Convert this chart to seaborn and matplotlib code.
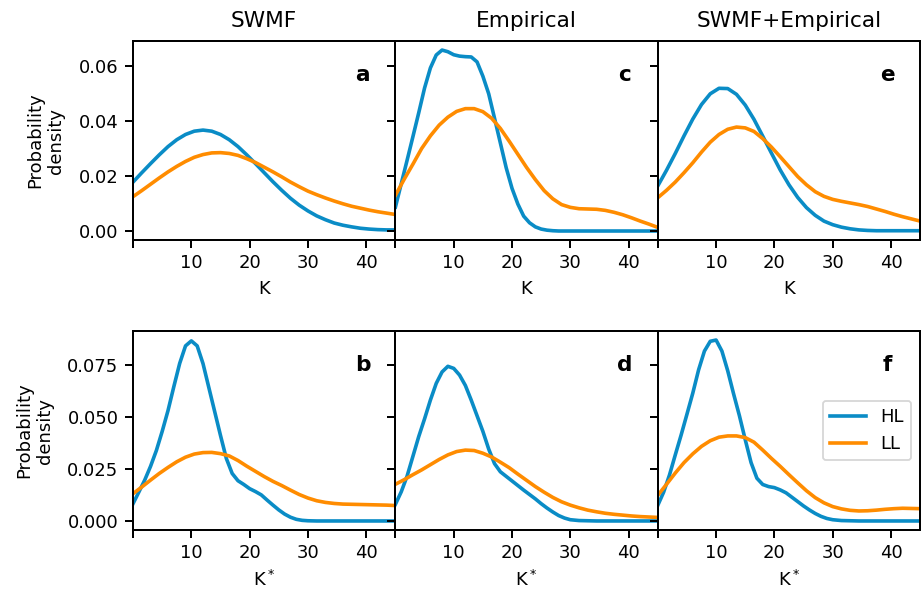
import numpy as np
import pandas as pd
import matplotlib
matplotlib.use("Agg")
import matplotlib.pyplot as plt
import seaborn as sns

# ---------------- data ----------------
# coarse K grid for the smooth curves
k_grid = [0, 1.5, 3, 4.5, 6, 7.5, 9, 10.5, 12, 13.5, 15, 16.5, 18, 19.5, 21, 22.5,
          24, 25.5, 27, 28.5, 30, 31.5, 33, 34.5, 36, 37.5, 39, 40.5, 42, 43.5, 45]
# finer K grid for the sharply peaked curves
k_fine = [0, 1, 2, 3, 4, 5, 6, 7, 8, 9, 10, 11, 12, 13, 14, 15, 16, 17, 18, 19, 20,
          21, 22, 23, 24, 25, 26, 27, 28, 29, 30, 31.5, 33, 34.5, 36, 37.5, 39, 40.5,
          42, 43.5, 45]

# a: SWMF, K  (k_grid)
a_hl = [0.0178, 0.0212, 0.0245, 0.0277, 0.0307, 0.0332, 0.0351, 0.0363, 0.0367, 0.0363,
        0.0351, 0.0332, 0.0307, 0.0277, 0.0245, 0.0212, 0.0179, 0.0148, 0.0119, 0.0094,
        0.0073, 0.0055, 0.0041, 0.0029, 0.0021, 0.0015, 0.0010, 0.0007, 0.0005, 0.0004, 0.0004]
a_ll = [0.0125, 0.0147, 0.0170, 0.0193, 0.0215, 0.0235, 0.0253, 0.0268, 0.0278, 0.0284,
        0.0285, 0.0282, 0.0275, 0.0263, 0.0249, 0.0232, 0.0215, 0.0197, 0.0178, 0.0161,
        0.0145, 0.0132, 0.0120, 0.0109, 0.0099, 0.0090, 0.0083, 0.0076, 0.0070, 0.0065, 0.0060]
# c: Empirical, K  (HL on k_fine, LL on k_grid)
c_hl = [0.0087, 0.0172, 0.0257, 0.0343, 0.0430, 0.0520, 0.0593, 0.0640, 0.0658, 0.0652,
        0.0641, 0.0636, 0.0634, 0.0633, 0.0615, 0.0563, 0.0499, 0.0410, 0.0320, 0.0230,
        0.0155, 0.0098, 0.0054, 0.0030, 0.0015, 0.0007, 0.0003, 0.0001, 0.0000, 0.0000,
        0.0000, 0.0000, 0.0000, 0.0000, 0.0000, 0.0000, 0.0000, 0.0000, 0.0000, 0.0000, 0.0000]
c_ll = [0.0130, 0.0188, 0.0243, 0.0300, 0.0346, 0.0385, 0.0414, 0.0435, 0.0445, 0.0445,
        0.0434, 0.0410, 0.0373, 0.0327, 0.0279, 0.0231, 0.0187, 0.0147, 0.0117, 0.0096,
        0.0086, 0.0081, 0.0080, 0.0079, 0.0075, 0.0068, 0.0059, 0.0048, 0.0036, 0.0025, 0.0013]
# e: SWMF+Empirical, K  (k_grid)
e_hl = [0.0164, 0.0221, 0.0282, 0.0346, 0.0407, 0.0460, 0.0499, 0.0519, 0.0518, 0.0497,
        0.0458, 0.0406, 0.0345, 0.0283, 0.0222, 0.0168, 0.0122, 0.0085, 0.0057, 0.0036,
        0.0023, 0.0014, 0.0008, 0.0004, 0.0002, 0.0001, 0.0001, 0.0001, 0.0001, 0.0001, 0.0001]
e_ll = [0.0121, 0.0148, 0.0178, 0.0212, 0.0248, 0.0287, 0.0323, 0.0351, 0.0370, 0.0378,
        0.0375, 0.0362, 0.0336, 0.0305, 0.0270, 0.0234, 0.0198, 0.0168, 0.0143, 0.0126,
        0.0115, 0.0108, 0.0102, 0.0096, 0.0089, 0.0080, 0.0071, 0.0061, 0.0052, 0.0044, 0.0036]
# b: SWMF, K*  (HL on k_fine, LL on k_grid)
b_hl = [0.0083, 0.0139, 0.0196, 0.0262, 0.0338, 0.0430, 0.0530, 0.0645, 0.0756, 0.0840,
        0.0864, 0.0840, 0.0755, 0.0640, 0.0525, 0.0410, 0.0300, 0.0228, 0.0193, 0.0175,
        0.0155, 0.0141, 0.0125, 0.0100, 0.0076, 0.0053, 0.0033, 0.0018, 0.0008, 0.0003,
        0.0001, 0.0000, 0.0000, 0.0000, 0.0000, 0.0000, 0.0000, 0.0000, 0.0000, 0.0000, 0.0000]
b_ll = [0.0131, 0.0163, 0.0196, 0.0228, 0.0257, 0.0284, 0.0306, 0.0321, 0.0328, 0.0329,
        0.0323, 0.0312, 0.0290, 0.0263, 0.0238, 0.0213, 0.0190, 0.0170, 0.0148, 0.0127,
        0.0110, 0.0097, 0.0089, 0.0084, 0.0081, 0.0080, 0.0079, 0.0078, 0.0077, 0.0076, 0.0074]
# d: Empirical, K*  (HL on k_fine, LL on k_grid)
d_hl = [0.0080, 0.0140, 0.0215, 0.0310, 0.0405, 0.0490, 0.0580, 0.0660, 0.0715, 0.0742,
        0.0732, 0.0700, 0.0650, 0.0580, 0.0505, 0.0430, 0.0345, 0.0275, 0.0236, 0.0214,
        0.0192, 0.0170, 0.0148, 0.0127, 0.0106, 0.0083, 0.0062, 0.0043, 0.0026, 0.0014,
        0.0006, 0.0002, 0.0001, 0.0000, 0.0000, 0.0000, 0.0000, 0.0000, 0.0000, 0.0000, 0.0000]
d_ll = [0.0176, 0.0198, 0.0222, 0.0245, 0.0270, 0.0295, 0.0317, 0.0333, 0.0340, 0.0338,
        0.0325, 0.0307, 0.0282, 0.0256, 0.0225, 0.0195, 0.0165, 0.0138, 0.0113, 0.0092,
        0.0076, 0.0063, 0.0052, 0.0044, 0.0037, 0.0032, 0.0028, 0.0024, 0.0021, 0.0019, 0.0017]
# f: SWMF+Empirical, K*  (HL on k_fine, LL on k_grid)
f_hl = [0.0075, 0.0138, 0.0220, 0.0317, 0.0412, 0.0512, 0.0613, 0.0725, 0.0815, 0.0862,
        0.0868, 0.0815, 0.0720, 0.0610, 0.0505, 0.0390, 0.0280, 0.0205, 0.0175, 0.0165,
        0.0160, 0.0149, 0.0135, 0.0114, 0.0093, 0.0072, 0.0053, 0.0036, 0.0022, 0.0012,
        0.0006, 0.0002, 0.0001, 0.0000, 0.0000, 0.0000, 0.0000, 0.0000, 0.0000, 0.0000, 0.0000]
f_ll = [0.0123, 0.0176, 0.0230, 0.0280, 0.0322, 0.0358, 0.0385, 0.0402, 0.0408, 0.0408,
        0.0400, 0.0378, 0.0340, 0.0300, 0.0262, 0.0222, 0.0183, 0.0145, 0.0112, 0.0087,
        0.0069, 0.0058, 0.0051, 0.0048, 0.0049, 0.0052, 0.0056, 0.0059, 0.0061, 0.0060, 0.0059]

groups = ["HL", "LL"]
col_titles = ["SWMF", "Empirical", "SWMF+Empirical"]
row_xlabels = ["K", "K$^*$"]
panel_letters = [["a", "c", "e"], ["b", "d", "f"]]
panel_series = [
    [((k_grid, a_hl), (k_grid, a_ll)), ((k_fine, c_hl), (k_grid, c_ll)), ((k_grid, e_hl), (k_grid, e_ll))],
    [((k_fine, b_hl), (k_grid, b_ll)), ((k_fine, d_hl), (k_grid, d_ll)), ((k_fine, f_hl), (k_grid, f_ll))],
]
x_ticks = [0, 10, 20, 30, 40]
x_ticklabels = ["", "10", "20", "30", "40"]
row_yticks = [[0.0, 0.02, 0.04, 0.06], [0.0, 0.025, 0.05, 0.075]]

palette = {"HL": "#0a8cc6", "LL": "#ff8c00"}

# ---------------- plotting ----------------
plt.rcParams["font.family"] = ["DejaVu Sans"]
plt.rcParams["font.size"] = 10
plt.rcParams["axes.linewidth"] = 1.1
plt.rcParams["xtick.major.width"] = 1.1
plt.rcParams["ytick.major.width"] = 1.1
plt.rcParams["xtick.major.size"] = 4.5
plt.rcParams["ytick.major.size"] = 4.5

fig, axes = plt.subplots(2, 3, figsize=(922 / 130, 592 / 130), dpi=130, sharey="row")
fig.subplots_adjust(left=0.1443, right=0.998, top=0.9307, bottom=0.1047,
                    wspace=0.0, hspace=0.457)

for r in range(2):
    for c in range(3):
        ax = axes[r, c]
        (hl_k, hl), (ll_k, ll) = panel_series[r][c]
        df = pd.DataFrame({
            "K": list(hl_k) + list(ll_k),
            "density": list(hl) + list(ll),
            "group": ["HL"] * len(hl) + ["LL"] * len(ll),
        })
        sns.lineplot(data=df, x="K", y="density", hue="group", hue_order=groups,
                     palette=palette, linewidth=2.0, ax=ax, legend=(r == 1 and c == 2))
        ax.set_xlim(0, 45)
        ax.set_xticks(x_ticks)
        ax.set_xticklabels(x_ticklabels)
        ax.set_yticks(row_yticks[r])
        ax.set_xlabel(row_xlabels[r], fontsize=10)
        if c == 0:
            ax.set_ylabel("Probability\ndensity", fontsize=10, labelpad=7.5)
        else:
            ax.set_ylabel("")
        ax.tick_params(labelsize=10)
        if r == 0:
            ax.set_title(col_titles[c], fontsize=12, pad=8)
        ax.text(0.875, 0.83, panel_letters[r][c], transform=ax.transAxes,
                fontsize=12, fontweight="bold", ha="center", va="center")

# legend in panel f
ax_f = axes[1, 2]
handles, labels = ax_f.get_legend_handles_labels()
ax_f.legend(handles, labels, loc="center right", fontsize=10)

fig.savefig("out.png", dpi=130)
